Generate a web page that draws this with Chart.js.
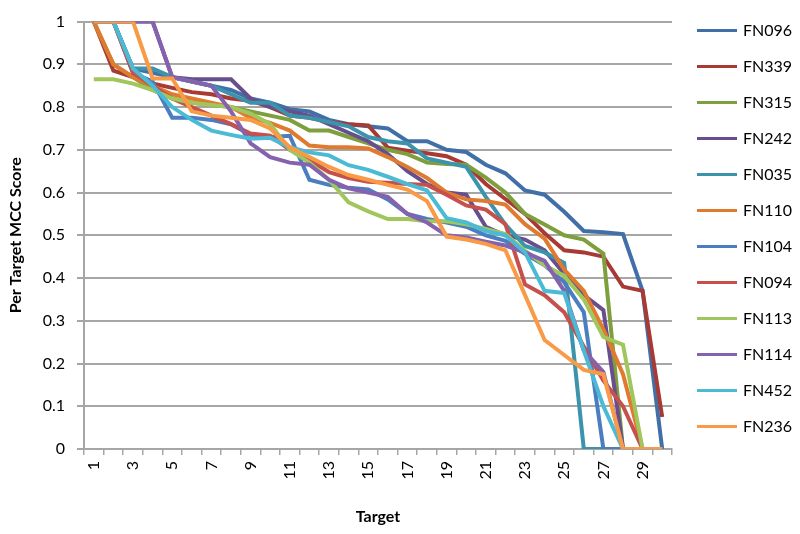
<!DOCTYPE html>
<html>
<head>
<meta charset="utf-8">
<script src="https://cdn.jsdelivr.net/npm/chart.js@4"></script>
<style>
  body { margin: 0; background: #fff; }
  #wrap { position: relative; width: 800px; height: 534px; }
  #legend { position: absolute; left: 697px; top: 0; font-family: Lato, sans-serif; font-size: 16px; color: #000; }
  .item { position: absolute; left: 0; width: 103px; height: 20px; }
  .item span.ln { position: absolute; left: 0; top: 9px; width: 40px; height: 3px; }
  .item span.tx { position: absolute; left: 46px; top: 0; line-height: 20px; }
</style>
</head>
<body>
<div id="wrap">
  <canvas id="myChart" width="800" height="534"></canvas>
  <div id="legend"></div>
</div>
<script>
// targets 1..30
const targets = ['1','2','3','4','5','6','7','8','9','10','11','12','13','14','15','16','17','18','19','20','21','22','23','24','25','26','27','28','29','30'];

const names = ['FN096','FN339','FN315','FN242','FN035','FN110','FN104','FN094','FN113','FN114','FN452','FN236'];
const colors = ['#4170A8','#A83A36','#7F9E3E','#674E8C','#3B93AC','#E07A2F','#4A7EC1','#C5504C','#A1C65C','#8562AE','#4BBAD5','#F99A47'];

const fn096 = [1,1,0.89,0.88,0.87,0.86,0.85,0.84,0.82,0.81,0.795,0.79,0.77,0.76,0.755,0.75,0.72,0.72,0.70,0.695,0.665,0.645,0.605,0.595,0.555,0.51,0.507,0.503,0.37,0];
const fn339 = [1,0.885,0.87,0.855,0.845,0.835,0.83,0.82,0.815,0.8,0.78,0.775,0.765,0.76,0.757,0.705,0.698,0.692,0.685,0.665,0.62,0.585,0.55,0.505,0.465,0.46,0.45,0.38,0.37,0.075];
const fn315 = [1,0.9,0.87,0.84,0.82,0.81,0.805,0.8,0.79,0.78,0.77,0.745,0.745,0.73,0.715,0.7,0.69,0.67,0.667,0.665,0.635,0.6,0.55,0.525,0.5,0.49,0.457,0,0,0];
const fn242 = [1,1,1,1,0.87,0.865,0.865,0.865,0.82,0.8,0.79,0.78,0.76,0.74,0.72,0.69,0.65,0.62,0.6,0.595,0.52,0.5,0.49,0.465,0.41,0.36,0.325,0,0,0];
const fn035 = [1,1,0.89,0.89,0.87,0.86,0.85,0.83,0.81,0.81,0.78,0.775,0.765,0.755,0.73,0.72,0.715,0.68,0.67,0.66,0.59,0.525,0.475,0.46,0.435,0,0,0,0,0];
const fn110 = [1,0.9,0.87,0.85,0.83,0.82,0.81,0.8,0.775,0.763,0.745,0.71,0.706,0.706,0.703,0.683,0.66,0.634,0.6,0.584,0.58,0.572,0.526,0.492,0.42,0.37,0.28,0.175,0,0];
const fn104 = [1,1,0.88,0.86,0.775,0.775,0.77,0.76,0.735,0.73,0.733,0.63,0.618,0.611,0.607,0.584,0.55,0.538,0.53,0.52,0.5,0.487,0.457,0.43,0.39,0.32,0,0,0,0];
const fn094 = [1,1,0.88,0.85,0.82,0.8,0.78,0.76,0.738,0.733,0.7,0.676,0.648,0.634,0.625,0.623,0.62,0.618,0.595,0.57,0.56,0.526,0.385,0.36,0.32,0.24,0.16,0.1,0,0];
const fn113 = [0.865,0.865,0.855,0.84,0.82,0.81,0.805,0.8,0.785,0.76,0.7,0.67,0.63,0.577,0.556,0.538,0.538,0.533,0.533,0.526,0.515,0.503,0.464,0.43,0.405,0.35,0.262,0.244,0,0];
const fn114 = [1,1,1,1,0.87,0.86,0.85,0.79,0.715,0.683,0.67,0.665,0.63,0.61,0.6,0.59,0.55,0.53,0.5,0.495,0.485,0.476,0.46,0.44,0.37,0.23,0.18,0,0,0];
const fn452 = [1,1,0.89,0.85,0.8,0.77,0.745,0.735,0.726,0.728,0.706,0.694,0.687,0.664,0.653,0.637,0.62,0.605,0.54,0.53,0.51,0.5,0.46,0.37,0.365,0.23,0.1,0,0,0];
const fn236 = [1,1,1,0.867,0.867,0.79,0.78,0.775,0.77,0.75,0.706,0.683,0.66,0.641,0.63,0.618,0.607,0.58,0.497,0.49,0.48,0.465,0.36,0.255,0.22,0.185,0.175,0,0,0];

const series = [fn096, fn339, fn315, fn242, fn035, fn110, fn104, fn094, fn113, fn114, fn452, fn236];

document.addEventListener('DOMContentLoaded', () => {
  const gridColor = '#A6A6A6';
  const tickFont = { family: 'Lato', size: 16 };
  const titleFont = { family: 'Lato', size: 16, weight: 'bold' };

  const datasets = series.map((d, i) => ({
    label: names[i],
    data: d,
    borderColor: colors[i],
    backgroundColor: colors[i],
    borderWidth: 4,
    pointRadius: 0,
    tension: 0,
    fill: false,
    order: names.length - i  // later series drawn on top, like the original
  }));

  const ctx = document.getElementById('myChart').getContext('2d');
  const myChart = new Chart(ctx, {
    type: 'line',
    data: { labels: targets, datasets: datasets },
    options: {
      responsive: false,
      animation: false,
      layout: { padding: { top: 14, right: 128, left: 0, bottom: 0 } },
      plugins: {
        legend: { display: false },
        tooltip: { enabled: false }
      },
      scales: {
        x: {
          offset: true,
          grid: { offset: true, drawOnChartArea: false, tickLength: 6, color: gridColor, lineWidth: 1.5 },
          border: { color: gridColor, width: 2 },
          ticks: {
            autoSkip: false,
            maxRotation: 90,
            minRotation: 90,
            padding: 6,
            color: '#000',
            font: tickFont,
            callback: (v, i) => (i % 2 === 0 ? targets[i] : '')
          },
          title: { display: true, text: 'Target', color: '#000', font: titleFont, padding: { top: 4, bottom: 8 } },
          afterFit: (s) => { s.height = 85; }
        },
        y: {
          min: 0,
          max: 1,
          grid: { color: gridColor, lineWidth: 2, tickLength: 7 },
          border: { color: gridColor, width: 2 },
          ticks: {
            stepSize: 0.1,
            padding: 12,
            color: '#000',
            font: tickFont,
            callback: (v) => (v === 0 ? '0' : v === 1 ? '1' : v.toFixed(1))
          },
          title: { display: true, text: 'Per Target MCC Score', color: '#000', font: titleFont, padding: { top: 6, bottom: 4 } },
          afterFit: (s) => { s.width = 84; }
        }
      }
    }
  });

  // legend on the right
  const legend = document.getElementById('legend');
  names.forEach((n, i) => {
    const item = document.createElement('div');
    item.className = 'item';
    item.style.top = (20 + i * 36) + 'px';
    item.innerHTML = '<span class="ln" style="background:' + colors[i] + '"></span><span class="tx">' + n + '</span>';
    legend.appendChild(item);
  });
});
</script>
</body>
</html>
